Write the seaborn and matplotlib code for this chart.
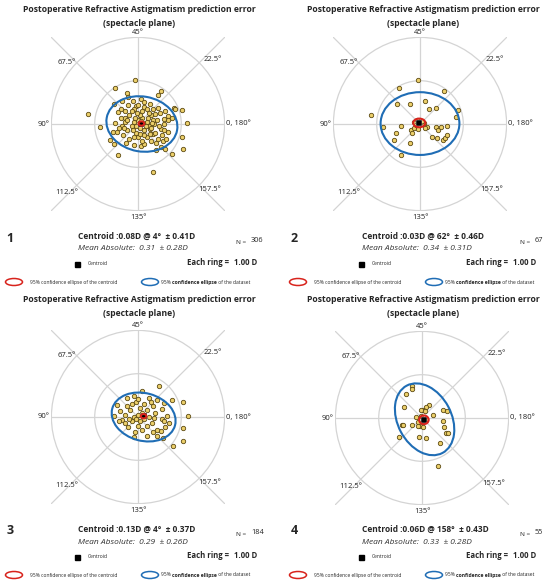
import math
import pandas as pd
import seaborn as sns
import matplotlib.pyplot as plt
from matplotlib.patches import Ellipse

# ---- data (double-angle plot, dioptres) ----
p1_x = [-0.08, -0.52, 0.52, 0.46, -0.25, -0.22, -0.55, -0.37, -0.12, 0.06, 0.15, 0.27, -0.23, -0.04,
        0.46, 0.62, 0.82, 0.86, 1.02, 0.69, 0.79, 1.14, -1.15, -0.88, -0.54, -0.38, -0.46, -0.40,
        -0.31, -0.58, -0.48, -0.64, -0.55, -0.47, -0.27, -0.09, 0.06, 0.15, 0.42, 0.54, 0.63, 0.79,
        0.35, 1.05, 1.02, 0.46, 0.58, 0.35, 0.69, 0.54, 0.27, 0.38,
        0.0, 0.1, 0.2, -0.1, -0.15, 0.05, 0.15, 0.25, -0.05, 0.1, -0.2, 0.3, 0.35, -0.25, 0.0, 0.2,
        -0.1, 0.15, 0.4, -0.3, 0.05, -0.05, 0.12, 0.25, -0.15, 0.3, 0.45, 0.5, 0.55, -0.35, -0.2,
        0.1, 0.3, 0.35, -0.4, 0.0, 0.6, 0.65, 0.7, -0.45, 0.08, 0.18, -0.02, 0.22, -0.12, 0.28,
        0.05, -0.25, 0.4, 0.15, -0.08, 0.32, 0.48, -0.32, 0.2, -0.3, 0.6, 0.6, -0.1, 0.42]
p1_y = [1.02, 0.83, 0.77, 0.68, 0.71, 0.63, 0.46, 0.52, 0.52, 0.58, 0.50, 0.46, 0.45, 0.42,
        0.38, 0.31, 0.38, 0.35, 0.32, 0.19, 0.15, 0.02, 0.22, -0.08, 0.03, -0.04, 0.27, 0.15,
        0.14, -0.19, -0.19, -0.37, -0.46, -0.72, -0.45, -0.48, -0.50, -0.46, -0.60, -0.54, -0.58, -0.69,
        -1.12, -0.58, -0.29, -0.35, -0.40, -0.23, -0.19, -0.12, -0.12, 0.0,
        0.1, 0.15, 0.05, 0.05, -0.05, -0.1, -0.15, -0.05, -0.2, 0.3, 0.2, 0.2, 0.1, -0.15, -0.3, -0.3,
        0.35, 0.4, -0.2, 0.05, 0.2, -0.05, 0.02, 0.25, 0.3, -0.1, 0.1, 0.25, -0.25, -0.25, -0.35,
        -0.4, -0.4, 0.35, 0.35, 0.45, 0.0, -0.35, 0.1, -0.1, 0.08, -0.05, 0.25, 0.15, -0.15, -0.22,
        -0.22, 0.1, 0.22, -0.25, 0.15, 0.02, -0.05, -0.1, 0.35, 0.3, 0.12, -0.15, -0.3, -0.45]

p2_x = [-0.04, -0.48, 0.56, -0.52, -0.22, 0.12, 0.20, 0.37, 0.88, 0.82, -1.13, -0.85, -0.45,
        -0.56, -0.61, -0.23, -0.44, -0.21, -0.13, -0.18, -0.15, -0.08, 0.10, 0.17, 0.38, 0.41,
        0.48, 0.63, 0.27, 0.40, 0.52, 0.58, 0.62, -0.1, 0.05, 0.12, -0.05]
p2_y = [1.02, 0.82, 0.77, 0.46, 0.46, 0.54, 0.34, 0.36, 0.32, 0.17, 0.21, -0.08, -0.04,
        -0.21, -0.37, -0.45, -0.72, -0.14, -0.10, -0.20, 0.05, 0.09, 0.02, -0.06, -0.06, -0.14,
        -0.08, -0.05, -0.31, -0.33, -0.38, -0.32, -0.25, -0.02, 0.08, -0.1, -0.12]

p3_x = [0.09, 0.48, 0.78, 1.04, 1.15, 1.04, 1.04, 0.81, 0.58, 0.44, 0.21, -0.10, -0.08, -0.22,
        -0.56, -0.48, -0.25, -0.10, 0.25, 0.35, 0.61, 0.55, 0.67, 0.71, 0.63, 0.52, 0.32, -0.37,
        -0.29, -0.41, -0.18, -0.14, 0.05, 0.21, 0.25, 0.36,
        0.0, 0.1, -0.1, 0.15, -0.05, 0.05, -0.2, 0.2, 0.0, -0.3, 0.15, -0.15, 0.4, 0.3, -0.05,
        0.45, 0.55, -0.45, 0.1, -0.25, 0.35, 0.0, 0.45, 0.6]
p3_y = [0.59, 0.71, 0.40, 0.34, 0.03, -0.25, -0.56, -0.68, -0.48, -0.45, -0.45, -0.47, -0.35, -0.22,
        0.03, 0.28, 0.44, 0.48, 0.44, 0.25, 0.32, 0.18, 0.03, -0.14, -0.22, -0.33, -0.14, -0.06,
        0.05, 0.15, 0.17, -0.10, -0.10, 0.17, 0.0, -0.02,
        0.05, 0.1, 0.0, -0.05, -0.05, 0.2, -0.05, -0.2, -0.2, -0.15, 0.3, 0.3, 0.1, 0.35, 0.35,
        -0.3, -0.05, -0.1, -0.3, 0.25, -0.35, 0.42, 0.4, -0.1]

p4_x = [-0.23, -0.22, -0.36, -0.42, -0.46, -0.45, -0.52, -0.22, -0.08, 0.10, 0.41, 0.37, 0.51,
        0.55, 0.60, 0.48, 0.25, 0.48, 0.58, 0.17, 0.10, 0.02, -0.02, 0.08, -0.09, -0.05, 0.02,
        -0.13, -0.1, 0.05, 0.1, -0.03]
p4_y = [0.75, 0.68, 0.55, 0.25, -0.16, -0.17, -0.44, -0.17, -0.44, -0.46, -0.57, -1.11, -0.21,
        -0.35, -0.35, -0.08, 0.06, 0.18, 0.16, 0.31, 0.25, 0.19, 0.18, 0.16, -0.09, -0.19, -0.21,
        0.02, -0.18, -0.08, -0.02, 0.05]

points_x = [p1_x, p2_x, p3_x, p4_x]
points_y = [p1_y, p2_y, p3_y, p4_y]

centroid_mag = ['0.08', '0.03', '0.13', '0.06']
centroid_axis = ['4°', '62°', '4°', '158°']
centroid_sd = ['0.41', '0.46', '0.37', '0.43']
mean_abs = ['0.31', '0.34', '0.29', '0.33']
mean_abs_sd = ['0.28', '0.31', '0.26', '0.28']
n_eyes = ['306', '67', '184', '55']
centroid_x = [0.079, -0.017, 0.129, 0.043]
centroid_y = [0.011, 0.025, 0.018, -0.042]

# 95% ellipses: centre x, centre y, width, height, angle (dioptres / degrees)
data_ell_cx = [0.09, 0.0, 0.13, 0.06]
data_ell_cy = [0.0, 0.01, 0.0, -0.03]
data_ell_w = [1.65, 1.82, 1.50, 1.76]
data_ell_h = [1.27, 1.45, 1.10, 1.24]
data_ell_ang = [-10, 0, -15, -62]
cent_ell_w = [0.13, 0.28, 0.13, 0.22]
cent_ell_h = [0.10, 0.20, 0.10, 0.20]

spoke_labels = ['0, 180°', '22.5°', '45°', '67.5°', '90°', '112.5°', '135°', '157.5°']
spoke_angles = [0, 45, 90, 135]
ring_radii = [1, 2]

# ---- layout ----
W, H = 550, 582
PX = 43.3
centers = [(138, 124), (420, 124), (138, 417), (422, 418)]
title_off = [(0, 0), (284, 0), (0, 290), (284, 290)]
text_off = [(0, 0), (284, 0), (0, 293), (284, 293)]
ring_x = [187, 182, 187, 182]
label_pos = [(2.04, 0, 'left', 'center'), (1.73, 1.48, 'center', 'center'),
             (0, 2.12, 'center', 'center'), (-1.64, 1.43, 'center', 'center'),
             (-2.04, 0, 'right', 'center'), (-1.64, -1.59, 'center', 'center'),
             (0, -2.15, 'center', 'center'), (1.66, -1.52, 'center', 'center')]

sns.set_style('white')
plt.rcParams['font.family'] = ['Open Sans', 'DejaVu Sans']

fig = plt.figure(figsize=(5.5, 5.82), dpi=100)


def fx(x):
    return x / W


def fy(y):
    return 1 - y / H


grid_col = '#d4d4d4'
half = 2.02
for i in range(4):
    cx, cy = centers[i]
    ax = fig.add_axes([fx(cx - half * PX), fy(cy + half * PX), 2 * half * PX / W, 2 * half * PX / H])
    ax.set_xlim(-half, half)
    ax.set_ylim(-half, half)
    ax.set_aspect('equal')
    ax.axis('off')
    for a in spoke_angles:
        if a == 90:
            ax.axvline(0, color=grid_col, lw=0.9, zorder=0)
        else:
            ax.axline((0, 0), slope=math.tan(math.radians(a)), color=grid_col, lw=0.9, zorder=0)
    for r in ring_radii:
        ax.add_patch(plt.Circle((0, 0), r, fill=False, ec=grid_col, lw=0.9, zorder=0))
    for lab, (lx, ly, ha, va) in zip(spoke_labels, label_pos):
        ax.text(lx, ly, lab, ha=ha, va=va, fontsize=5.5, color='#222222', clip_on=False)

    df = pd.DataFrame({'x': points_x[i], 'y': points_y[i]})
    sns.scatterplot(data=df, x='x', y='y', ax=ax, color='#eccf6a', edgecolor='#5c4a12',
                    linewidth=0.6, s=10, zorder=3, legend=False)
    ax.add_patch(Ellipse((data_ell_cx[i], data_ell_cy[i]), data_ell_w[i], data_ell_h[i],
                         angle=data_ell_ang[i], fill=False, ec='#1f6db5', lw=1.5, zorder=4))
    sns.scatterplot(x=[centroid_x[i]], y=[centroid_y[i]], ax=ax, marker='s', color='black',
                    s=14, zorder=5, legend=False)
    ax.add_patch(Ellipse((centroid_x[i], centroid_y[i]), cent_ell_w[i], cent_ell_h[i],
                         fill=False, ec='#d8231c', lw=1.5, zorder=6))
    ax.set_xlabel('')
    ax.set_ylabel('')

    # title
    tx, ty = title_off[i]
    fig.text(fx(tx + 139), fy(ty + 10), 'Postoperative Refractive Astigmatism prediction error',
             ha='center', va='center', fontsize=6.2, fontweight='bold')
    fig.text(fx(tx + 139), fy(ty + 23), '(spectacle plane)', ha='center', va='center',
             fontsize=6.2, fontweight='bold')

    # text block
    ox, oy = text_off[i]
    fig.text(fx(ox + 10), fy(oy + 238), str(i + 1), ha='center', va='center', fontsize=9,
             fontweight='bold')
    fig.text(fx(ox + 78), fy(oy + 236),
             f'Centroid :{centroid_mag[i]}D @ {centroid_axis[i]}  ± {centroid_sd[i]}D',
             ha='left', va='center', fontsize=6.0, fontweight='bold')
    fig.text(fx(ox + 78), fy(oy + 249), f'Mean Absolute:  {mean_abs[i]}  ± {mean_abs_sd[i]}D',
             ha='left', va='center', fontsize=6.0, style='italic', color='#333333')
    fig.text(fx(ox + 236), fy(oy + 242), 'N =', ha='left', va='center', fontsize=4.6)
    fig.text(fx(ox + 251), fy(oy + 240), n_eyes[i], ha='left', va='center', fontsize=5.3)
    fig.patches.append(plt.Rectangle((fx(ox + 75), fy(oy + 267)), 5 / W, 5 / H,
                                     transform=fig.transFigure, color='black'))
    fig.text(fx(ox + 88), fy(oy + 264), 'Centroid', ha='left', va='center', fontsize=3.6)
    fig.text(fx(ox + ring_x[i]), fy(oy + 263), 'Each ring =', ha='left', va='center',
             fontsize=5.6, fontweight='bold')
    fig.text(fx(ox + ring_x[i] + 47), fy(oy + 263), '1.00 D', ha='left', va='center',
             fontsize=5.6, fontweight='bold')

    # legend row
    fig.patches.append(Ellipse((fx(ox + 14), fy(oy + 282)), 17 / W, 7 / H, transform=fig.transFigure,
                               fill=False, ec='#d8231c', lw=1.1))
    fig.text(fx(ox + 30), fy(oy + 282), '95% confidence ellipse of the centroid', ha='left',
             va='center', fontsize=3.6)
    fig.patches.append(Ellipse((fx(ox + 150), fy(oy + 282)), 17 / W, 7 / H, transform=fig.transFigure,
                               fill=False, ec='#1f6db5', lw=1.1))
    renderer = fig.canvas.get_renderer()
    t1 = fig.text(fx(ox + 161), fy(oy + 282), '95% ', ha='left', va='center', fontsize=3.6)
    e1 = t1.get_window_extent(renderer)
    t2 = fig.text(e1.x1 / W, fy(oy + 282), 'confidence ellipse', ha='left', va='center',
                  fontsize=3.6, fontweight='bold')
    e2 = t2.get_window_extent(renderer)
    fig.text(e2.x1 / W, fy(oy + 282), ' of the dataset', ha='left', va='center', fontsize=3.6)

fig.savefig('out.png', dpi=100)
